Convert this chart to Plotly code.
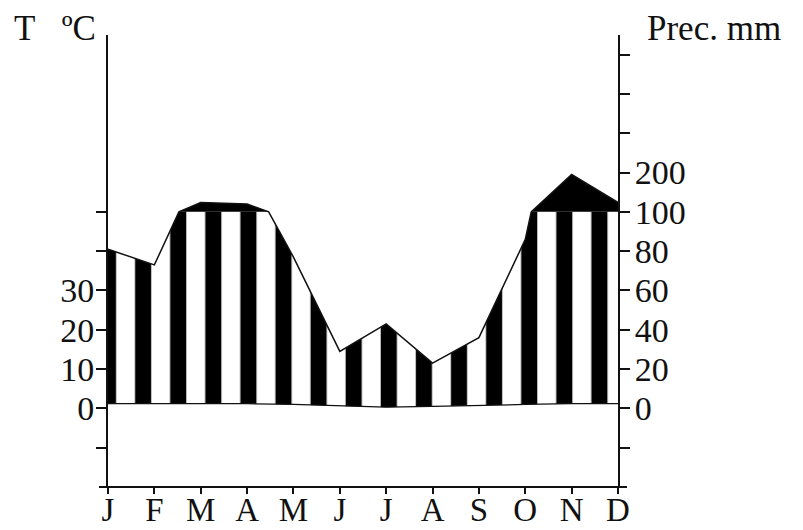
import plotly.graph_objects as go

# ---- data ----
months = ["J", "F", "M", "A", "M", "J", "J", "A", "S", "O", "N", "D"]
precip_mm = [81, 73, 124, 120, 77, 29, 43, 23, 36, 86, 195, 124]
temp_c = [1.2, 1.2, 1.2, 1.2, 1.0, 0.6, 0.3, 0.5, 0.8, 1.0, 1.2, 1.2]

temp_tick_vals = [-10, 0, 10, 20, 30, 40, 50]
temp_tick_text = ["", "0", "10", "20", "30", "", ""]
prec_tick_vals = [-20, 0, 20, 40, 60, 80, 100, 200, 300, 400, 500]
prec_tick_text = ["", "0", "20", "40", "60", "80", "100", "200", "", "", ""]

FONT = "Liberation Serif"
INK = "#111111"


# Walter-Lieth scales: 10 degC = 20 mm, above 100 mm the scale is reduced 1:5
def p2d(p):
    return p if p <= 100 else 100 + (p - 100) / 5.0


def t2d(t):
    return 2.0 * t


# precipitation path, with the points where it crosses 100 mm
xs, ps = [], []
for i, p in enumerate(precip_mm):
    if i > 0:
        p0 = precip_mm[i - 1]
        if (p0 - 100) * (p - 100) < 0:
            f = (100 - p0) / (p - p0)
            xs.append(i - 1 + f)
            ps.append(100)
    xs.append(i)
    ps.append(p)
pd_ = [p2d(p) for p in ps]

mx = list(range(len(months)))
td = [t2d(t) for t in temp_c]

fig = go.Figure()

# humid (striped) area between temperature and precipitation (capped at 100)
fig.add_trace(go.Scatter(
    x=xs + mx[::-1],
    y=[min(d, 100) for d in pd_] + td[::-1],
    mode="lines", line=dict(width=0), fill="toself",
    fillcolor="black",
    fillpattern=dict(shape="|", size=35.1, solidity=0.54,
                     fgcolor="white", bgcolor="black", fillmode="replace"),
    hoverinfo="skip", showlegend=False))

# perhumid (black) area above 100 mm
fig.add_trace(go.Scatter(x=[xs[0], xs[-1]], y=[100, 100], mode="lines",
                         line=dict(width=0), hoverinfo="skip", showlegend=False))
fig.add_trace(go.Scatter(x=xs, y=[max(d, 100) for d in pd_], mode="lines",
                         line=dict(width=0), fill="tonexty", fillcolor="black",
                         hoverinfo="skip", showlegend=False))

# temperature curve
fig.add_trace(go.Scatter(x=mx, y=td, mode="lines",
                         line=dict(color=INK, width=1.3),
                         hoverinfo="skip", showlegend=False))

# precipitation curve (right axis)
fig.add_trace(go.Scatter(x=xs, y=pd_, mode="lines", yaxis="y2",
                         line=dict(color=INK, width=1.5),
                         hoverinfo="skip", showlegend=False))

yr = [-40, 190]
tickfont = dict(family=FONT, size=34, color=INK)

fig.update_layout(
    width=803, height=530,
    margin=dict(l=108, r=185, t=35, b=43, autoexpand=False),
    paper_bgcolor="white", plot_bgcolor="white",
    showlegend=False,
    xaxis=dict(range=[0, 11], tickvals=mx, ticktext=months,
               ticks="outside", ticklen=6, tickwidth=1.5, tickcolor=INK,
               showline=False, showgrid=False, zeroline=False,
               tickfont=dict(family=FONT, size=33, color=INK),
               automargin=False, ticklabelstandoff=-13),
    yaxis=dict(range=yr, tickvals=[t2d(v) for v in temp_tick_vals],
               ticktext=temp_tick_text, ticks="outside", ticklen=10,
               tickwidth=1.5, tickcolor=INK, showline=True, linewidth=2,
               linecolor=INK, showgrid=False, zeroline=False,
               tickfont=tickfont, ticklabelstandoff=-5, automargin=False),
    yaxis2=dict(range=yr, overlaying="y", side="right", anchor="x",
                tickvals=[p2d(v) for v in prec_tick_vals],
                ticktext=prec_tick_text, ticks="outside", ticklen=10,
                tickwidth=1.5, tickcolor=INK, showline=True, linewidth=2,
                linecolor=INK, showgrid=False, zeroline=False,
                tickfont=tickfont, ticklabelstandoff=-2, automargin=False),
    shapes=[dict(type="line", xref="paper", yref="paper",
                 x0=-9 / 510, x1=1 + 9 / 510, y0=0, y1=0,
                 line=dict(color=INK, width=2))],
    annotations=[
        dict(text="T\u00a0\u00a0\u00a0ºC", xref="paper", yref="paper",
             x=(12 - 108) / 510, y=1 + (35 - 28) / 452,
             xanchor="left", yanchor="middle", showarrow=False,
             font=dict(family=FONT, size=35, color=INK)),
        dict(text="Prec. mm", xref="paper", yref="paper",
             x=(645 - 108) / 510, y=1 + (35 - 28) / 452,
             xanchor="left", yanchor="middle", showarrow=False,
             font=dict(family=FONT, size=35, color=INK)),
    ],
)

fig.write_html("out.html")
